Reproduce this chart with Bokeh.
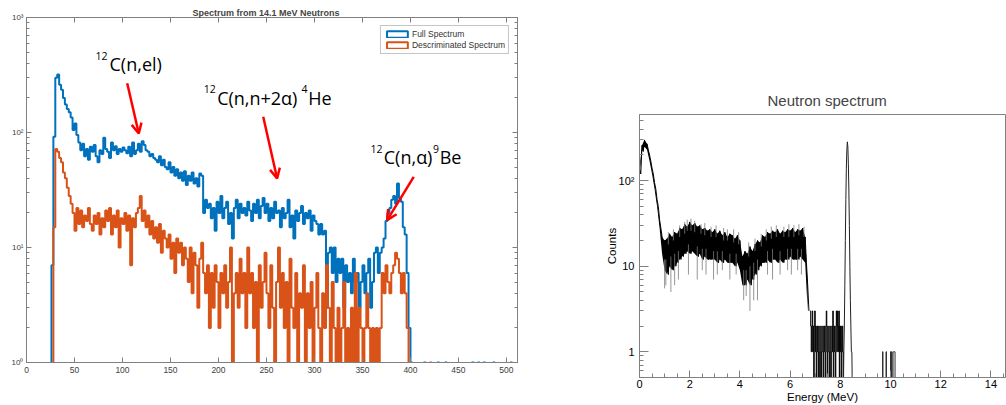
import numpy as np
from bokeh.plotting import figure
from bokeh.layouts import row
from bokeh.models import (Label, Arrow, OpenHead, FixedTicker, LinearAxis, LogAxis,
                          Legend, LegendItem, Range1d)
from bokeh.embed import file_html
from bokeh.resources import INLINE

# ---------------- Left panel data (histogram, bin width 2, first bin at 24) ----------------
left_bin_start = 24
left_bin_width = 2
full_counts = [0,
    7, 92, 300, 320, 260, 235, 200, 175, 160, 150,
    135, 105, 120, 95, 82, 70, 80, 62, 72, 58,
    75, 68, 78, 62, 55, 70, 65, 90, 72, 68,
    60, 82, 70, 76, 65, 72, 68, 74, 70, 66,
    75, 62, 82, 65, 70, 80, 68, 84, 78, 70,
    68, 62, 65, 60, 58, 55, 62, 52, 58, 50,
    48, 55, 45, 50, 42, 48, 40, 45, 38, 46,
    35, 42, 38, 45, 36, 40, 34, 44, 42, 20,
    26, 22, 24, 18, 22, 14, 25, 20, 28, 18,
    22, 25, 16, 20, 12, 22, 26, 18, 24, 20,
    22, 19, 25, 21, 17, 24, 20, 26, 18, 23,
    27, 20, 24, 17, 22, 18, 25, 20, 21, 15,
    22, 18, 20, 26, 15, 19, 12, 21, 17, 20,
    23, 16, 20, 18, 21, 14, 19, 17, 16, 13,
    16, 13, 14, 3, 9, 10, 6, 10, 5, 8,
    6, 8, 3, 7, 5, 6, 4, 8, 5, 6,
    3, 5, 7, 4, 6, 8, 3, 5, 9, 10,
    6, 9, 10, 12, 17, 20, 22, 26, 28, 24,
    36, 27, 25, 15, 13, 6, 2, 1, 0, 0]
disc_counts = [0,
    0, 15, 72, 68, 60, 55, 45, 40, 33, 28,
    24, 20, 14, 22, 16, 21, 15, 19, 17, 22,
    16, 14, 19, 16, 20, 13, 18, 15, 21, 17,
    22, 13, 19, 15, 21, 10, 18, 16, 20, 14,
    19, 7, 18, 15, 20, 22, 28, 17, 21, 15,
    19, 13, 17, 12, 15, 11, 16, 9, 14, 12,
    10, 13, 8, 11, 6, 12, 9, 11, 7, 10,
    8, 5, 10, 4, 9, 7, 3, 8, 11, 6,
    4, 7, 2, 6, 3, 7, 5, 2, 6, 4,
    7, 3, 5, 10, 0, 4, 6, 3, 8, 4,
    6, 2, 10, 4, 6, 2, 5, 0, 7, 3,
    5, 9, 4, 2, 7, 3, 0, 5, 10, 3,
    6, 2, 5, 0, 8, 3, 2, 6, 1, 4,
    3, 7, 0, 4, 2, 5, 1, 3, 6, 2,
    0, 4, 2, 7, 3, 1, 5, 2, 0, 3,
    1, 2, 5, 1, 2, 0, 3, 1, 6, 1,
    3, 2, 0, 2, 4, 2, 0, 2, 1, 2,
    1, 2, 6, 4, 7, 5, 4, 6, 7, 9,
    8, 6, 4, 6, 4, 2, 0, 0, 0, 0]
# isolated single counts beyond the main spectrum (bin starts)
full_single_bins = [414, 428, 436, 464, 470, 476, 486, 504]
disc_single_bins = [420]
left_last_edge = 512

x_ticks_left = list(range(0, 501, 50))
y_ticks_left = [1, 10, 100, 1000]
y_labels_left = {1: "10⁰", 10: "10¹", 100: "10²", 1000: "10³"}

# ---------------- Right panel data ----------------
band_step = 0.1
band_hi = [140, 260, 300, 270, 200, 140, 95, 60, 35, 22,
           20, 21, 24, 22, 25, 24, 28, 27, 31, 29,
           33, 30, 32, 29, 30, 27, 28, 26, 27, 25,
           27, 24, 26, 23, 25, 22, 24, 23, 21, 23,
           20, 13, 15, 14, 17, 15, 18, 20, 19, 23,
           22, 25, 24, 26, 25, 27, 24, 26, 25, 27,
           26, 28, 25, 27, 26, 28, 22, 6]
band_lo = [120, 220, 250, 230, 170, 120, 80, 50, 28, 14,
           9, 8, 10, 9, 10, 11, 12, 13, 14, 15,
           14, 15, 14, 13, 14, 12, 13, 12, 12, 12,
           12, 11, 12, 11, 12, 11, 11, 11, 10, 11,
           9, 6, 6, 7, 6, 7, 8, 9, 10, 11,
           11, 12, 11, 12, 12, 11, 12, 11, 12, 12,
           13, 12, 12, 12, 13, 12, 11, 3]
# thin grey excursions out of the band (energy, low end, high end)
spike_E = [1.0, 1.05, 1.25, 1.4, 1.55, 1.95, 2.3, 2.5, 2.65, 2.95, 3.1, 3.3, 3.6,
           3.85, 4.15, 4.25, 4.4, 4.55, 4.7, 5.1, 5.3, 5.6, 5.9, 6.05, 6.3, 6.45,
           1.15, 1.35, 1.6, 1.8, 1.9, 2.05, 2.2, 2.45, 2.6, 2.85, 3.05, 3.35, 3.5,
           3.75, 3.95, 4.35, 4.6, 4.85, 5.05, 5.25, 5.45, 5.75, 5.95, 6.15, 6.35, 6.55]
spike_lo = [5.5, 6, 5, 6, 7, 8, 7, 9, 8, 7, 8, 9, 7, 8, 4, 4.5, 3, 4, 4, 8, 7, 8, 9, 8, 9, 8,
            18, 20, 22, 24, 26, 26, 25, 24, 23, 22, 22, 20, 20, 19, 18, 13, 15, 17, 20, 21,
            22, 22, 22, 22, 23, 22]
spike_hi = [12, 12, 13, 14, 15, 18, 17, 16, 16, 15, 15, 15, 14, 14, 9, 9, 10, 11, 12,
            15, 16, 15, 16, 16, 16, 16,
            25, 27, 30, 33, 35, 36, 34, 31, 32, 29, 30, 28, 27, 27, 25, 19, 21, 24, 27, 29,
            30, 29, 31, 30, 31, 29]
fine_step = 0.02
tail_start = 6.80
tail_counts = [3, 2, 1, 2, 3, 1, 2, 0, 2, 3, 1, 2, 0, 1, 2, 1, 0, 2, 1, 0,
               1, 2, 0, 1, 1, 2, 0, 1, 2, 1, 0, 2, 3, 1, 0, 2, 1, 1, 0, 2,
               1, 0, 1, 2, 1, 3, 0, 1, 2, 1, 0, 2, 3, 1, 3, 2, 1, 3, 0, 2,
               1, 2, 0, 1, 2, 1, 0]
peak_start = 8.12
peak_counts = [0, 1, 2, 6, 20, 60, 140, 230, 285, 250, 160, 80, 30, 10, 4, 2, 1, 1, 0, 0]
far_start = 9.60
far_counts = [0, 0, 0, 0, 1, 0, 0, 0, 0, 0, 0, 1, 0, 0, 0, 0, 0, 0, 0, 0,
              1, 0, 1, 0, 0, 1, 1, 1, 1, 0, 0, 0]

x_ticks_right = list(range(0, 15, 2))
y_ticks_right = [1, 10, 100]
y_labels_right = {1: "1", 10: "10", 100: "10²"}

BLUE = "#0072BD"
ORANGE = "#D95319"
AX = "#808080"
FONT = "Liberation Sans"

# ================= Left figure =================
p1 = figure(width=575, height=405, x_range=Range1d(0, 511.5), y_range=Range1d(1, 1000),
            y_axis_type="log", output_backend="svg", toolbar_location=None,
            min_border_left=26, min_border_right=58, min_border_top=17, min_border_bottom=43)
p1.grid.visible = False
p1.outline_line_color = AX
p1.background_fill_color = "white"

p1.title.text = "Spectrum from 14.1 MeV Neutrons"
p1.title.text_font = FONT
p1.title.text_font_size = "9px"
p1.title.text_font_style = "bold"
p1.title.align = "left"
p1.title.offset = 166
p1.title.standoff = 0

def left_step(counts, singles):
    c = np.zeros(int((left_last_edge - left_bin_start) / left_bin_width))
    c[:len(counts)] = counts
    for b in singles:
        c[int((b - left_bin_start) / left_bin_width)] = 1
    edges = left_bin_start + left_bin_width * np.arange(len(c) + 1)
    ys = np.append(c, c[-1])
    ys = np.where(ys > 0, ys, 0.5)
    return edges, ys

ex, ey = left_step(full_counts, full_single_bins)
p1.step(ex, ey, mode="after", line_color=BLUE, line_width=2)
ox, oy = left_step(disc_counts, disc_single_bins)
p1.step(ox, oy, mode="after", line_color=ORANGE, line_width=2)

yminor = [m * d for d in (1, 10, 100) for m in range(2, 10)]

def style_axis(ax, size="8.5px", hidden=False):
    ax.axis_line_color = AX
    ax.major_tick_line_color = AX
    ax.minor_tick_line_color = AX
    ax.major_tick_in = 5
    ax.major_tick_out = 0
    ax.minor_tick_in = 3
    ax.minor_tick_out = 0
    ax.major_label_text_font = FONT
    ax.major_label_text_color = "#404040"
    ax.major_label_text_font_size = size
    ax.major_label_standoff = 4
    if hidden:
        ax.major_label_text_alpha = 0
        ax.major_label_text_font_size = "2px"
        ax.major_label_standoff = 0

p1.xaxis.ticker = FixedTicker(ticks=x_ticks_left)
style_axis(p1.xaxis[0])
p1.yaxis.ticker = FixedTicker(ticks=y_ticks_left, minor_ticks=yminor)
p1.yaxis.major_label_overrides = y_labels_left
style_axis(p1.yaxis[0], size="8px")
p1.yaxis.major_label_standoff = 3

top_ax = LinearAxis(ticker=FixedTicker(ticks=x_ticks_left))
style_axis(top_ax, hidden=True)
p1.add_layout(top_ax, "above")
right_ax = LogAxis(ticker=FixedTicker(ticks=y_ticks_left, minor_ticks=yminor))
style_axis(right_ax, hidden=True)
p1.add_layout(right_ax, "right")

# legend with outlined rectangles (glyphs kept off-screen; only the legend shows them)
q1 = p1.quad(left=[-50], right=[-40], top=[2], bottom=[1.5], fill_alpha=0, line_color=BLUE, line_width=2)
q2 = p1.quad(left=[-50], right=[-40], top=[2], bottom=[1.5], fill_alpha=0, line_color=ORANGE, line_width=2)
leg = Legend(items=[LegendItem(label="Full Spectrum", renderers=[q1]),
                    LegendItem(label="Descriminated Spectrum", renderers=[q2])],
             location="top_right")
leg.margin = 8
leg.padding = 3
leg.spacing = 1
leg.glyph_width = 26
leg.glyph_height = 8
leg.label_height = 9
leg.label_standoff = 2
leg.label_text_font = FONT
leg.label_text_font_size = "8.5px"
leg.label_text_color = "#333333"
leg.border_line_color = "#8c8c8c"
leg.border_line_width = 1
leg.background_fill_color = "white"
leg.background_fill_alpha = 1
p1.add_layout(leg)

# reaction annotations
ann = [
    ("12", 71.9, 463, 10.5), ("C(n,el)", 86.5, 392, 18),
    ("12", 184.7, 237, 10.5), ("C(n,n+2α)", 198.6, 201, 18),
    ("4", 286.5, 237, 10.5), ("He", 293.5, 201, 18),
    ("12", 358.3, 71.3, 10.5), ("C(n,α)", 372.2, 60.7, 18),
    ("9", 423.5, 71.3, 10.5), ("Be", 430.5, 60.7, 18),
]
for t, x, y, s in ann:
    p1.add_layout(Label(x=x, y=y, text=t, text_font="Open Sans", text_font_size=f"{s}px",
                        text_color="black", text_baseline="alphabetic", text_align="left"))

arrows = [(104.9, 268, 117.0, 98), (246.6, 137, 261.1, 39.8), (403.4, 41.1, 375.7, 17.3)]
for xs, ys, xe, ye in arrows:
    p1.add_layout(Arrow(end=OpenHead(size=10, line_color="red", line_width=2.5),
                        x_start=xs, y_start=ys, x_end=xe, y_end=ye,
                        line_color="red", line_width=2.5))

# ================= Right figure =================
p2 = figure(width=431, height=405, x_range=Range1d(0, 14.58), y_range=Range1d(0.5, 595),
            y_axis_type="log", output_backend="svg", toolbar_location=None,
            min_border_left=64, min_border_right=1, min_border_top=114, min_border_bottom=28)
p2.grid.visible = False
p2.outline_line_color = AX
p2.title.text = "Neutron spectrum"
p2.title.text_font = FONT
p2.title.text_font_size = "15px"
p2.title.text_font_style = "normal"
p2.title.align = "left"
p2.title.offset = 128
p2.title.standoff = 12

E_band = np.arange(len(band_hi)) * band_step
p2.varea(x=E_band, y1=band_lo, y2=band_hi, fill_color="black")
bx = np.column_stack([E_band, E_band + band_step / 2]).ravel()
by = np.column_stack([band_hi, band_lo]).ravel()
p2.line(bx, by, line_color="black", line_width=1)
p2.segment(x0=spike_E, x1=spike_E, y0=spike_lo, y1=spike_hi, line_color="#7a7a7a", line_width=0.8)

def fine(start, counts):
    c = np.asarray(counts, dtype=float)
    x = start + fine_step * np.arange(len(c) + 1)
    y = np.append(c, c[-1])
    return x, np.where(y > 0, y, 0.3)

tx, ty = fine(tail_start, tail_counts)
p2.step(tx, ty, mode="after", line_color="black", line_width=1)
pk = np.asarray(peak_counts, dtype=float)
px_ = peak_start + fine_step * np.arange(len(pk))
p2.line(px_, np.where(pk > 0, pk, 0.3), line_color="#222222", line_width=1)
fx, fy = fine(far_start, far_counts)
p2.step(fx, fy, mode="after", line_color="#333333", line_width=1)

p2.xaxis.ticker = FixedTicker(ticks=x_ticks_right, minor_ticks=[i * 0.5 for i in range(0, 30)])
p2.yaxis.ticker = FixedTicker(ticks=y_ticks_right,
                              minor_ticks=[0.6, 0.7, 0.8, 0.9] + [m * d for d in (1, 10, 100) for m in range(2, 10) if m * d < 600])
p2.yaxis.major_label_overrides = y_labels_right
for ax in (p2.xaxis[0], p2.yaxis[0]):
    ax.axis_line_color = AX
    ax.major_tick_line_color = AX
    ax.minor_tick_line_color = AX
    ax.major_tick_out = 0
    ax.minor_tick_out = 0
    ax.minor_tick_in = 4
    ax.major_label_text_font = FONT
    ax.major_label_text_font_size = "11px"
    ax.major_label_text_color = "black"
    ax.axis_label_text_font = FONT
    ax.axis_label_text_font_size = "11.5px"
    ax.axis_label_text_font_style = "normal"
    ax.axis_label_text_color = "black"
p2.xaxis.major_tick_in = 7
p2.yaxis.major_tick_in = 9
p2.xaxis.axis_label = "Energy (MeV)"
p2.yaxis.axis_label = "Counts"
p2.xaxis.major_label_standoff = 2
p2.xaxis.axis_label_standoff = 0
p2.yaxis.major_label_standoff = 5
p2.yaxis.axis_label_standoff = -2

for p in (p1, p2):
    if "frame_align" in p.properties():
        p.frame_align = False

layout = row(p1, p2)
open("out.html", "w").write(file_html(layout, INLINE))
